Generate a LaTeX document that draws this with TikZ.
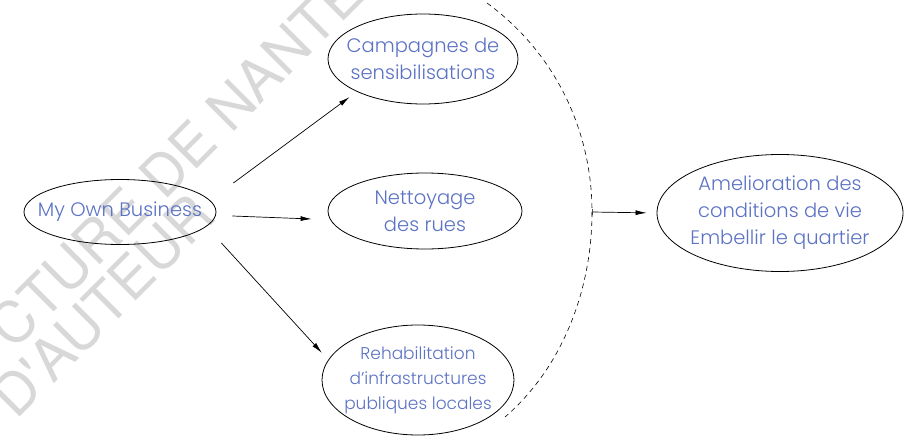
\documentclass[tikz,border=0pt]{standalone}
\usepackage{fontspec}
\setmainfont{Poppins}[UprightFont=* Light]
\newfontfamily\wmfont{TeX Gyre Heros}
\usetikzlibrary{shapes.geometric,arrows.meta,calc}
\definecolor{txtblue}{RGB}{92,114,196}
\definecolor{wmgray}{RGB}{216,216,216}
\begin{document}
\begin{tikzpicture}[x=1pt,y=-1pt,
  ell/.style={ellipse, draw, line width=0.8pt, inner sep=0pt},
  txt/.style={align=center, text=txtblue, inner sep=0pt, font=\fontsize{19.5}{27}\selectfont},
  smalltxt/.style={txt, font=\fontsize{17}{25}\selectfont},
  arr/.style={-{Latex[length=11pt,width=5pt]}, line width=0.7pt},
  wm/.style={text=wmgray, font=\wmfont\fontsize{57}{57}\selectfont, rotate=45, inner sep=0pt}]
\useasboundingbox (0,0) rectangle (905,436);
\fill[white] (0,0) rectangle (905,436);
\begin{scope}
\clip (0,0) rectangle (905,436);
\node[wm] (wm1) at (176,160) {CTURE DE NANTE};
\node[wm] (wm2) at (103,306) {D'AUTEUR};
\end{scope}
\node[ell, minimum width=192pt, minimum height=65pt, label={[txt]center:My Own Business}] (mob) at (120,212) {};
\node[ell, minimum width=190pt, minimum height=90pt, label={[txt]center:{Campagnes de\\sensibilisations}}] (camp) at (423,59) {};
\node[ell, minimum width=194pt, minimum height=76pt, label={[txt]center:{Nettoyage\\des rues}}] (nett) at (425,211) {};
\node[ell, minimum width=192pt, minimum height=110pt, label={[smalltxt]center:{Rehabilitation\\d'infrastructures\\publiques locales}}] (reh) at (418,380) {};
\node[ell, minimum width=246pt, minimum height=117pt, label={[txt]center:{Amelioration des\\conditions de vie\\Embellir le quartier}}] (amel) at (780,213) {};
\coordinate (aT) at (487,3);
\coordinate (aM) at (592,212);
\coordinate (aB) at (505,417);
\draw[line width=0.6pt, dash pattern=on 5pt off 4pt] (aT) .. controls (554,52) and (592,129) .. (aM) .. controls (592,289) and (563,367) .. (aB);
\draw[{Bar[width=6pt]}-{Latex[length=11pt,width=5pt]}, line width=0.7pt, shorten >=10pt] (aM) -- (amel.west);
\draw[arr] ([shift={(17,-29)}]mob.east) -- ([shift={(-6,6)}]camp.south west);
\draw[arr] ([shift={(16,4)}]mob.east) -- ([shift={(-16,8)}]nett.west);
\draw[arr] ([shift={(5,31)}]mob.east) -- ([shift={(-28,12)}]reh.north west);
\end{tikzpicture}
\end{document}
